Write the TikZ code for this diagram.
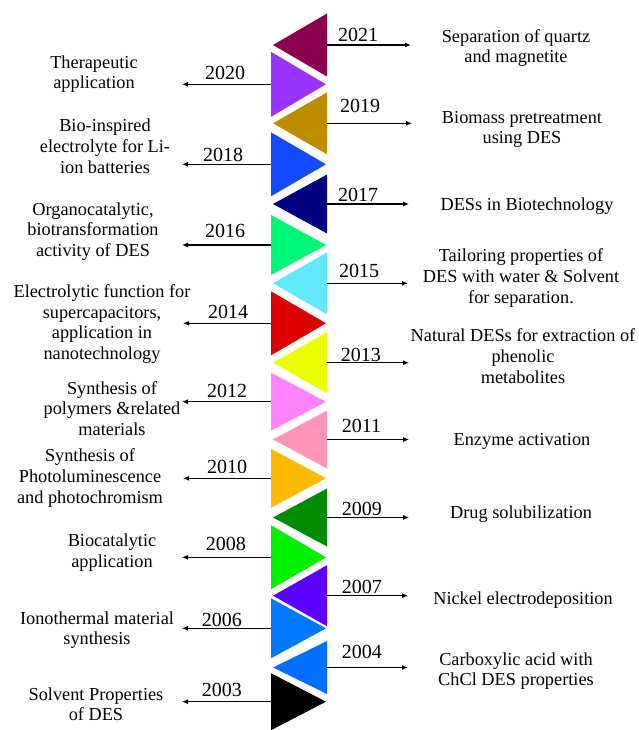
\documentclass[tikz,border=0pt]{standalone}
\usepackage{fontspec}
\setmainfont{Liberation Serif}
\usetikzlibrary{arrows.meta}
\definecolor{c2021}{RGB}{140,0,80}
\definecolor{c2020}{RGB}{153,51,255}
\definecolor{c2019}{RGB}{191,140,0}
\definecolor{c2018}{RGB}{20,75,255}
\definecolor{c2017}{RGB}{0,0,128}
\definecolor{c2016}{RGB}{0,245,120}
\definecolor{c2015}{RGB}{100,230,255}
\definecolor{c2014}{RGB}{220,0,0}
\definecolor{c2013}{RGB}{235,255,0}
\definecolor{c2012}{RGB}{255,130,255}
\definecolor{c2011}{RGB}{255,150,185}
\definecolor{c2010}{RGB}{255,185,0}
\definecolor{c2009}{RGB}{0,140,0}
\definecolor{c2008}{RGB}{0,240,0}
\definecolor{c2007}{RGB}{90,0,255}
\definecolor{c2006}{RGB}{0,120,255}
\definecolor{c2004}{RGB}{0,110,255}
\definecolor{c2003}{RGB}{0,0,0}
\begin{document}
\begin{tikzpicture}[x=1pt,y=-1pt,
    txt/.style={align=center,anchor=base,font=\fontsize{18.3}{20.7}\selectfont},
    yr/.style={anchor=base west,inner sep=0pt,font=\fontsize{20}{22}\selectfont},
    con/.style={-{Latex[length=6pt,width=5pt]},line width=1.1pt}]
    \useasboundingbox (0,0) rectangle (639,730);
    \fill[c2021] (327,13.5) -- (327,76.5) -- (273,45) -- cycle;
    \fill[c2020] (271,51.8) -- (271,116.8) -- (326,84.3) -- cycle;
    \fill[c2019] (327,92.3) -- (327,154.3) -- (273,123.3) -- cycle;
    \fill[c2018] (271,132.3) -- (271,196.3) -- (326,164.3) -- cycle;
    \fill[c2017] (327,174.5) -- (327,233.5) -- (273,204) -- cycle;
    \fill[c2016] (271,215) -- (271,275) -- (326,245) -- cycle;
    \fill[c2015] (327,252.3) -- (327,314.3) -- (273,283.3) -- cycle;
    \fill[c2014] (271,291.3) -- (271,355.3) -- (326,323.3) -- cycle;
    \fill[c2013] (327,332.2) -- (327,393.2) -- (273,362.7) -- cycle;
    \fill[c2012] (271,372.7) -- (271,430.7) -- (326,401.7) -- cycle;
    \fill[c2011] (327,410.5) -- (327,468.5) -- (273,439.5) -- cycle;
    \fill[c2010] (271,448.8) -- (271,507.8) -- (326,478.3) -- cycle;
    \fill[c2009] (327,488.5) -- (327,546.5) -- (273,517.5) -- cycle;
    \fill[c2008] (271,525.3) -- (271,589.3) -- (326,557.3) -- cycle;
    \fill[c2007] (327,565.2) -- (327,626.2) -- (273,595.7) -- cycle;
    \fill[c2006] (271,598.3) -- (271,658.3) -- (326,628.3) -- cycle;
    \fill[c2004] (327,641) -- (327,694) -- (273,667.5) -- cycle;
    \fill[c2003] (271,673.2) -- (271,730.2) -- (326,701.7) -- cycle;

    \coordinate (b2021) at (327,45);    \coordinate (e2021) at (411,45);
    \coordinate (b2020) at (271,84.3);  \coordinate (e2020) at (182,84.3);
    \coordinate (b2019) at (327,123.3); \coordinate (e2019) at (412,123.3);
    \coordinate (b2018) at (271,164.3); \coordinate (e2018) at (182,164.3);
    \coordinate (b2017) at (327,204);   \coordinate (e2017) at (409,204);
    \coordinate (b2016) at (271,245);   \coordinate (e2016) at (182,245);
    \coordinate (b2015) at (327,283.3); \coordinate (e2015) at (408,283.3);
    \coordinate (b2014) at (271,323.3); \coordinate (e2014) at (183,323.3);
    \coordinate (b2013) at (327,362.7); \coordinate (e2013) at (409,362.7);
    \coordinate (b2012) at (271,401.7); \coordinate (e2012) at (182,401.7);
    \coordinate (b2011) at (327,439.5); \coordinate (e2011) at (409,439.5);
    \coordinate (b2010) at (271,478.3); \coordinate (e2010) at (183,478.3);
    \coordinate (b2009) at (327,517.5); \coordinate (e2009) at (409,517.5);
    \coordinate (b2008) at (271,557.3); \coordinate (e2008) at (182,557.3);
    \coordinate (b2007) at (327,595.7); \coordinate (e2007) at (408,595.7);
    \coordinate (b2006) at (271,628.3); \coordinate (e2006) at (182,628.3);
    \coordinate (b2004) at (327,667.5); \coordinate (e2004) at (408,667.5);
    \coordinate (b2003) at (271,701.7); \coordinate (e2003) at (182,701.7);

    \node[yr] (y2021) at (338,41.7) {2021};
    \node[yr] (y2020) at (205,80) {2020};
    \node[yr] (y2019) at (340,112.7) {2019};
    \node[yr] (y2018) at (203,161.7) {2018};
    \node[yr] (y2017) at (338,201) {2017};
    \node[yr] (y2016) at (205,237.3) {2016};
    \node[yr] (y2015) at (339,277) {2015};
    \node[yr] (y2014) at (208,318.3) {2014};
    \node[yr] (y2013) at (340.7,361.7) {2013};
    \node[yr] (y2012) at (207,397.3) {2012};
    \node[yr] (y2011) at (341.7,432.7) {2011};
    \node[yr] (y2010) at (207,473.3) {2010};
    \node[yr] (y2009) at (341.7,515) {2009};
    \node[yr] (y2008) at (205.7,550) {2008};
    \node[yr] (y2007) at (341.7,593.3) {2007};
    \node[yr] (y2006) at (201.7,626.7) {2006};
    \node[yr] (y2004) at (341.7,658.3) {2004};
    \node[yr] (y2003) at (201.7,696.7) {2003};

    \node[txt] (d2021) at (516,63) {Separation of quartz\\and magnetite};
    \node[txt] (d2020) at (94,89) {Therapeutic\\application};
    \node[txt] (d2019) at (522,144) {Biomass pretreatment\\using DES};
    \node[txt] (d2018) at (105,173.1) {Bio-inspired\\electrolyte for Li-\\ion batteries};
    \node[txt] (d2017) at (527,210) {DESs in Biotechnology};
    \node[txt] (d2016) at (93,256.4) {Organocatalytic,\\biotransformation\\activity of DES};
    \node[txt] (d2015) at (521,303.1) {Tailoring properties of\\DES with water \& Solvent\\for separation.};
    \node[txt] (d2014) at (102,359.4) {Electrolytic function for\\supercapacitors,\\application in\\nanotechnology};
    \node[txt] (d2013) at (523,383.1) {Natural DESs for extraction of\\phenolic\\metabolites};
    \node[txt] (d2012) at (112,435.4) {Synthesis of\\polymers \&related\\materials};
    \node[txt] (d2011) at (522,445) {Enzyme activation};
    \node[txt] (d2010) at (90,503.1) {Synthesis of\\Photoluminescence\\and photochromism};
    \node[txt] (d2009) at (521,518.3) {Drug solubilization};
    \node[txt] (d2008) at (112,567.4) {Biocatalytic\\application};
    \node[txt] (d2007) at (523,604) {Nickel electrodeposition};
    \node[txt] (d2006) at (97,644.7) {Ionothermal material\\synthesis};
    \node[txt] (d2004) at (516,685.7) {Carboxylic acid with\\ChCl DES properties};
    \node[txt] (d2003) at (96,720.7) {Solvent Properties\\of DES};

    \draw[con] (b2021) -- (e2021);
    \draw[con] (b2020) -- (e2020);
    \draw[con] (b2019) -- (e2019);
    \draw[con] (b2018) -- (e2018);
    \draw[con] (b2017) -- (e2017);
    \draw[con] (b2016) -- (e2016);
    \draw[con] (b2015) -- (e2015);
    \draw[con] (b2014) -- (e2014);
    \draw[con] (b2013) -- (e2013);
    \draw[con] (b2012) -- (e2012);
    \draw[con] (b2011) -- (e2011);
    \draw[con] (b2010) -- (e2010);
    \draw[con] (b2009) -- (e2009);
    \draw[con] (b2008) -- (e2008);
    \draw[con] (b2007) -- (e2007);
    \draw[con] (b2006) -- (e2006);
    \draw[con] (b2004) -- (e2004);
    \draw[con] (b2003) -- (e2003);
\end{tikzpicture}
\end{document}
